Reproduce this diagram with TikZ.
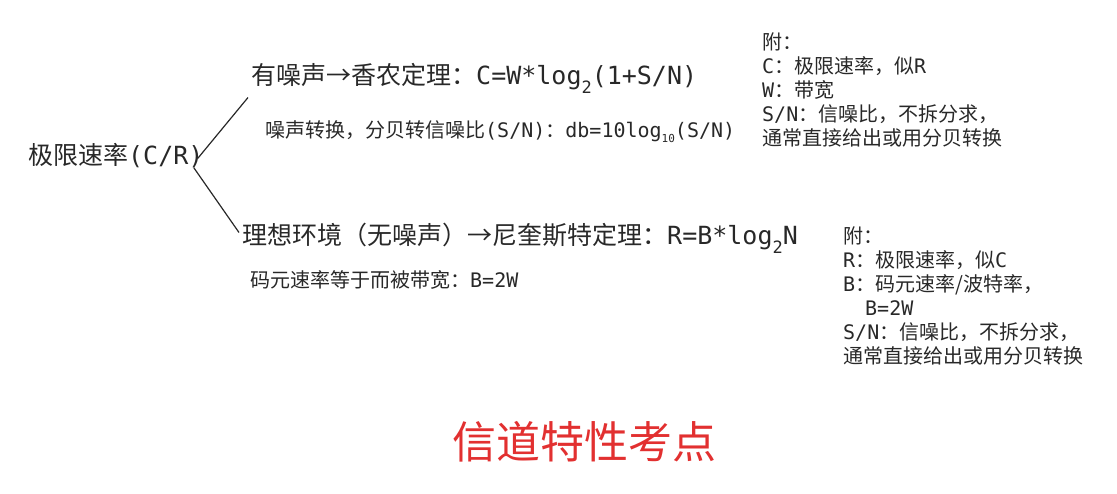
\documentclass[tikz,border=0pt]{standalone}
\usepackage{fontspec}
\setmainfont{Noto Sans CJK SC}
\newfontfamily\monof{DejaVu Sans Mono}
\usetikzlibrary{positioning, calc}
\definecolor{mydark}{RGB}{40,40,40}
\definecolor{myred}{RGB}{226,48,48}
\tikzset{
  bigtext/.style={anchor=base west, inner sep=0pt,
    font=\fontsize{25}{30}\selectfont, text=mydark},
  smalltext/.style={anchor=base west, inner sep=0pt,
    font=\fontsize{20}{24}\selectfont, text=mydark},
  notetext/.style={anchor=north west, inner sep=0pt, align=left,
    font=\fontsize{20}{24}\selectfont, text=mydark},
  titletext/.style={inner sep=0pt, font=\fontsize{44}{50}\selectfont, text=myred},
  branch/.style={line width=1.2pt, color=mydark}
}
\newcommand{\lowsub}[3]{\raisebox{-#1}{\fontsize{#2}{#2}\selectfont #3}}

\begin{document}
\begin{tikzpicture}[x=1pt, y=-1pt]
  \useasboundingbox (0,0) rectangle (1117,493);
  % Root
  \node[bigtext] (rate) at (28,164.5) {极限速率{\monof (C/R)}};
  % Noisy channel
  \node[bigtext] (noisy) at (251,84.5)
    {有噪声→香农定理：{\monof C=W*log\lowsub{9pt}{17}{2}(1+S/N)}};
  \node[smalltext] (noisysub) at (265,137.6)
    {噪声转换，分贝转信噪比{\monof (S/N)}：{\monof db=10log\lowsub{5pt}{11}{10}(S/N)}};
  % Ideal channel
  \node[bigtext] (ideal) at (242,244.5)
    {理想环境（无噪声）→尼奎斯特定理：{\monof R=B*log\lowsub{9pt}{17}{2}N}};
  \node[smalltext] (idealsub) at (250,287.6)
    {码元速率等于而被带宽：{\monof B=2W}};
  % Branches
  \draw[branch] ($(rate.base east)+(-6,-6)$) -- ($(noisy.base west)+(-3,13)$);
  \draw[branch] ($(rate.base east)+(-10,3)$) -- ($(ideal.base west)+(-3,-12)$);
  % Notes
  \node[notetext] (noisynote) at (762,33)
    {附：\\
     {\monof C}：极限速率，似{\monof R}\\
     {\monof W}：带宽\\
     {\monof S/N}：信噪比，不拆分求，\\
     通常直接给出或用分贝转换};
  \node[notetext] (idealnote) at (843,227)
    {附：\\
     {\monof R}：极限速率，似{\monof C}\\
     {\monof B}：码元速率/波特率，\\
     \hspace*{22pt}{\monof B=2W}\\
     {\monof S/N}：信噪比，不拆分求，\\
     通常直接给出或用分贝转换};
  % Title
  \node[titletext] (title) at (584,442) {信道特性考点};
\end{tikzpicture}
\end{document}
